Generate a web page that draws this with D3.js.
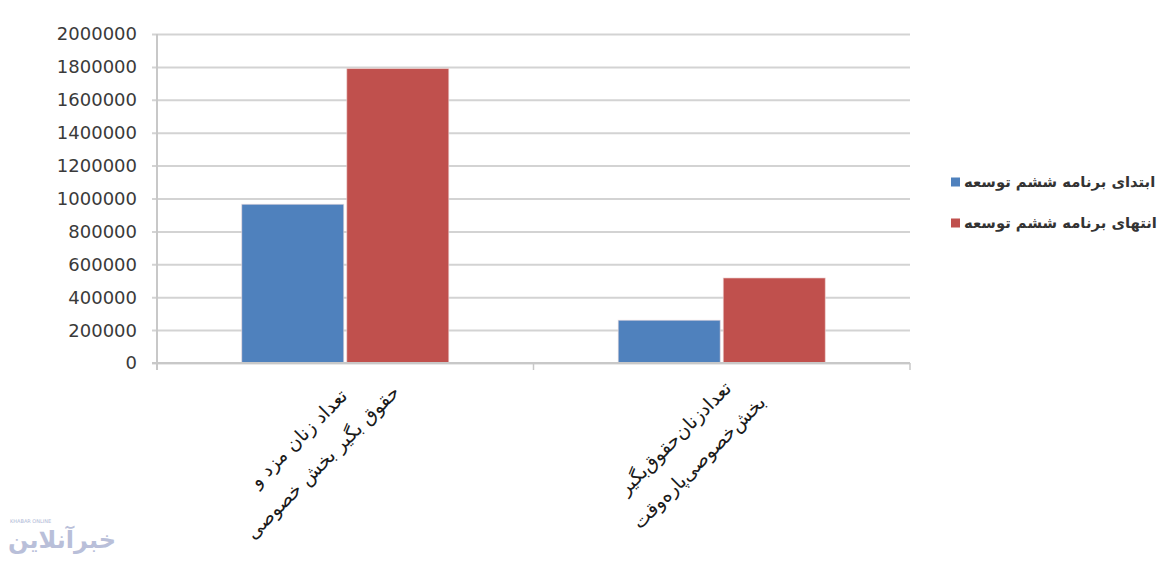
<!DOCTYPE html>
<html>
<head>
<meta charset="utf-8">
<script src="https://cdn.jsdelivr.net/npm/d3@7"></script>
<style>
  html, body { margin: 0; padding: 0; background: #fff; }
  svg { display: block; }
</style>
</head>
<body>
<svg id="chart" width="1163" height="562"></svg>
<script>
// ---- data ----
const categories = ["cat1", "cat2"];
const categoryLines = [
  ["تعداد زنان مزد و", "حقوق بگیر بخش خصوصی"],
  ["تعدادزنان‌حقوق‌بگیر", "بخش‌خصوصی‌پاره‌وقت"]
];
const seriesNames = ["ابتدای برنامه ششم توسعه", "انتهای برنامه ششم توسعه"];
const seriesStart = [965000, 260000];
const seriesEnd = [1790000, 517000];
const seriesColors = ["#4f81bd", "#c0504d"];
const yTicks = [0, 200000, 400000, 600000, 800000, 1000000, 1200000, 1400000, 1600000, 1800000, 2000000];

const seriesValues = [seriesStart, seriesEnd];

// ---- layout ----
const svg = d3.select("#chart");
const plot = { left: 157, right: 910, top: 34, bottom: 363 };

const y = d3.scaleLinear().domain([0, 2000000]).range([plot.bottom, plot.top]);
const x0 = d3.scaleBand().domain(categories).range([plot.left, plot.right]).padding(0);
const bw = x0.bandwidth();
const x1 = d3.scaleBand().domain(d3.range(seriesNames.length))
  .range([bw * 0.221, bw - bw * 0.221]).padding(0);

// gridlines (extend left past axis as tick marks)
svg.append("g")
  .attr("transform", `translate(${plot.left},0)`)
  .call(d3.axisLeft(y).tickValues(yTicks).tickSize(-(plot.right - plot.left)).tickFormat(""))
  .call(g => g.select(".domain").remove())
  .call(g => g.selectAll(".tick line").attr("x1", -5).attr("stroke", "#d3d3d3").attr("stroke-width", 2));

// y labels
svg.append("g")
  .selectAll("text")
  .data(yTicks)
  .join("text")
  .attr("x", 137)
  .attr("y", d => y(d))
  .attr("dy", "0.36em")
  .attr("text-anchor", "end")
  .attr("font-family", "DejaVu Sans, sans-serif")
  .attr("font-size", 18)
  .attr("fill", "#3a3a3a")
  .text(d => d);

// bars
const groups = svg.append("g").selectAll("g")
  .data(categories)
  .join("g")
  .attr("transform", d => `translate(${x0(d)},0)`);

groups.selectAll("rect")
  .data((d, i) => seriesValues.map((s, si) => ({ si, v: s[i] })))
  .join("rect")
  .attr("x", d => x1(d.si) + 1.5)
  .attr("width", x1.bandwidth() - 3)
  .attr("y", d => y(d.v))
  .attr("height", d => y(0) - y(d.v))
  .attr("fill", d => seriesColors[d.si])
  .attr("stroke", "#f2dede")
  .attr("stroke-opacity", 0.6)
  .attr("stroke-width", 1);

// y axis line
svg.append("line")
  .attr("x1", plot.left).attr("x2", plot.left)
  .attr("y1", plot.top).attr("y2", plot.bottom + 7)
  .attr("stroke", "#c8c8c8").attr("stroke-width", 2);

// x axis line
svg.append("line")
  .attr("x1", plot.left - 5).attr("x2", plot.right)
  .attr("y1", plot.bottom).attr("y2", plot.bottom)
  .attr("stroke", "#c8c8c8").attr("stroke-width", 2);

// category boundary ticks
const bounds = categories.map(c => x0(c)).concat([plot.right]);
svg.append("g").selectAll("line")
  .data(bounds.slice(1))
  .join("line")
  .attr("x1", d => d).attr("x2", d => d)
  .attr("y1", plot.bottom).attr("y2", plot.bottom + 7)
  .attr("stroke", "#c8c8c8").attr("stroke-width", 1.5);

// category labels (rotated)
const lab = svg.append("g").selectAll("g")
  .data(categories)
  .join("g")
  .attr("transform", (d, i) => `translate(${x0(d) + bw / 2 - 35},${450}) rotate(-45)`);

lab.selectAll("text")
  .data((d, i) => categoryLines[i])
  .join("text")
  .attr("x", 0)
  .attr("y", (d, j) => (j === 0 ? -17 : 17))
  .attr("dy", "0.35em")
  .attr("text-anchor", "middle")
  .attr("font-family", "DejaVu Sans, sans-serif")
  .attr("font-size", 19)
  .attr("fill", "#1a1a1a")
  .text(d => d);

// legend
const legend = svg.append("g").selectAll("g")
  .data(seriesNames)
  .join("g")
  .attr("transform", (d, i) => `translate(951,${182 + i * 41})`);

legend.append("rect")
  .attr("x", 0).attr("y", -4.5)
  .attr("width", 9).attr("height", 9)
  .attr("fill", (d, i) => seriesColors[i]);

legend.append("text")
  .attr("x", 13)
  .attr("y", 0)
  .attr("dy", "0.35em")
  .attr("font-family", "DejaVu Sans, sans-serif")
  .attr("font-weight", "bold")
  .attr("font-size", 14.8)
  .attr("fill", "#333")
  .text(d => d);

// watermark
const wm = svg.append("g").attr("opacity", 0.8);
wm.append("text")
  .attr("x", 10).attr("y", 523)
  .attr("font-family", "DejaVu Sans, sans-serif")
  .attr("font-size", 5)
  .attr("fill", "#9aa7cc")
  .text("KHABAR ONLINE");
wm.append("text")
  .attr("x", 8).attr("y", 548)
  .attr("text-anchor", "start")
  .attr("font-family", "DejaVu Sans, sans-serif")
  .attr("font-size", 24)
  .attr("font-weight", "bold")
  .attr("fill", "#a8b0d0")
  .text("خبرآنلاین");
</script>
</body>
</html>
